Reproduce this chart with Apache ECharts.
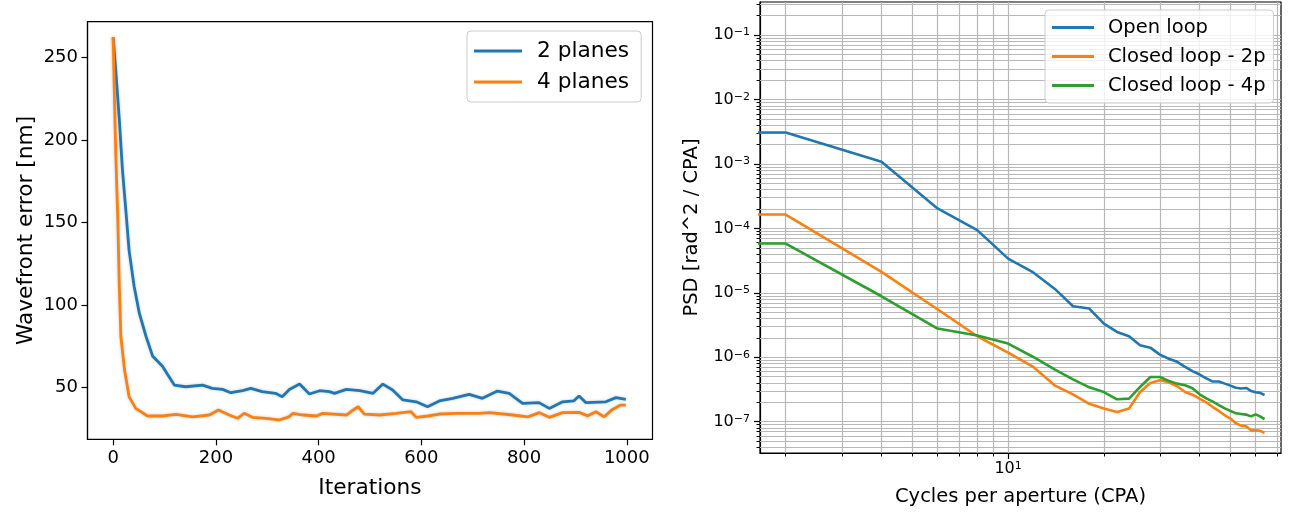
<!DOCTYPE html>
<html>
<head>
<meta charset="utf-8">
<script src="https://cdn.jsdelivr.net/npm/echarts@6/dist/echarts.min.js"></script>
<style>
html, body { margin: 0; padding: 0; background: #fff; }
#chart { width: 1294px; height: 512px; }
</style>
</head>
<body>
<div id="chart"></div>
<script>
// left panel: wavefront error per iteration
var blueIter = [0, 5, 12, 18, 25, 31, 41, 51, 64, 77, 96, 106, 119, 141, 174, 193, 213, 229, 252, 268, 290, 316, 329, 343, 363, 382, 402, 421, 431, 454, 480, 506, 525, 544, 564, 590, 612, 635, 661, 693, 719, 748, 771, 797, 829, 849, 875, 897, 907, 920, 959, 979, 998];
var blueErr = [262, 242, 212, 182, 156, 133, 111, 95, 81, 69, 63, 58, 51.6, 50.6, 51.6, 49.6, 49, 47, 48.2, 49.6, 47.6, 46.6, 44.6, 49, 52.2, 46.2, 48.2, 47.6, 46.6, 49, 48.2, 46.6, 52.2, 48.6, 42.6, 41.5, 38.5, 42, 43.6, 46, 43.6, 48, 46.6, 40.5, 41, 37.5, 41.5, 42.1, 45, 41, 41.5, 44, 43];
var orangeIter = [0, 2, 5, 9, 12, 15, 22, 31, 44, 67, 96, 122, 155, 187, 205, 226, 242, 255, 271, 297, 323, 342, 350, 370, 396, 408, 454, 463, 477, 489, 519, 551, 580, 590, 613, 635, 668, 713, 732, 778, 807, 830, 849, 875, 907, 924, 940, 956, 972, 988, 998];
var orangeErr = [262, 232, 192, 152, 111, 81, 61, 44.5, 37.5, 32.9, 32.9, 33.9, 32.4, 33.5, 36.5, 33.5, 31.5, 34.5, 32.1, 31.5, 30.5, 32.4, 34.5, 33.5, 32.9, 34.5, 33.5, 35.6, 38.5, 34, 33.5, 34.5, 35.5, 32.1, 32.9, 34.1, 34.5, 34.5, 34.9, 33.5, 32.4, 34.9, 32.1, 34.9, 35.1, 33, 35.5, 32.4, 36.9, 39.5, 39.5];
var iterTicks = [0, 200, 400, 600, 800, 1000];
var errTicks = [50, 100, 150, 200, 250];

// right panel: PSD vs cycles per aperture
var cpa = [1, 2, 4, 6, 8, 10, 12, 14, 16, 18, 20, 22, 24, 26, 28, 30, 32, 34, 36, 38, 40, 42, 44, 46, 48, 50, 52, 54, 56, 58, 60, 62, 64];
var psdOpen = [3.08e-3, 3.08e-3, 1.08e-3, 2.04e-4, 9.4e-5, 3.4e-5, 2.07e-5, 1.16e-5, 6.2e-6, 5.7e-6, 3.33e-6, 2.47e-6, 2.12e-6, 1.54e-6, 1.41e-6, 1.1e-6, 9.5e-7, 8.5e-7, 7.1e-7, 6.1e-7, 5.4e-7, 4.7e-7, 4.2e-7, 4.2e-7, 3.9e-7, 3.63e-7, 3.36e-7, 3.27e-7, 3.34e-7, 3.0e-7, 2.86e-7, 2.8e-7, 2.6e-7];
var psd2p = [1.64e-4, 1.64e-4, 2.11e-5, 5.56e-6, 2.12e-6, 1.18e-6, 7.1e-7, 3.67e-7, 2.66e-7, 1.9e-7, 1.6e-7, 1.41e-7, 1.6e-7, 2.89e-7, 3.99e-7, 4.4e-7, 4.1e-7, 3.55e-7, 2.89e-7, 2.63e-7, 2.28e-7, 2.0e-7, 1.69e-7, 1.47e-7, 1.26e-7, 1.12e-7, 9.5e-8, 8.7e-8, 8.5e-8, 7.35e-8, 7.35e-8, 7.2e-8, 6.76e-8];
var psd4p = [5.82e-5, 5.82e-5, 8.85e-6, 2.79e-6, 2.17e-6, 1.63e-6, 1.01e-6, 6.5e-7, 4.55e-7, 3.42e-7, 2.89e-7, 2.23e-7, 2.28e-7, 3.46e-7, 4.94e-7, 4.94e-7, 4.28e-7, 3.9e-7, 3.67e-7, 3.3e-7, 2.66e-7, 2.3e-7, 2.05e-7, 1.81e-7, 1.61e-7, 1.47e-7, 1.35e-7, 1.32e-7, 1.29e-7, 1.21e-7, 1.30e-7, 1.21e-7, 1.1e-7];
var cpaMajor = [10];
var cpaMinor = [2, 3, 4, 5, 6, 7, 8, 9, 20, 30, 40, 50, 60, 70];
var psdMajor = [1e-7, 1e-6, 1e-5, 1e-4, 1e-3, 1e-2, 1e-1];
var psdMinorSteps = [2, 3, 4, 5, 6, 7, 8, 9];

var FONT = 'DejaVu Sans';
var BLUE = '#1f77b4', ORANGE = '#ff7f0e', GREEN = '#2ca02c';
var CPA_MIN = 1.66, CPA_MAX = 72.1;
var PSD_MIN = 3.27e-8, PSD_MAX = 0.326;

function pairs(xs, ys) {
    var out = [];
    for (var i = 0; i < xs.length; i++) {
        out.push([xs[i], ys[i]]);
    }
    return out;
}

function psdMinor() {
    var vals = [];
    for (var e = -8; e <= -1; e++) {
        for (var k = 0; k < psdMinorSteps.length; k++) {
            var v = psdMinorSteps[k] * Math.pow(10, e);
            if (v > PSD_MIN && v < PSD_MAX) vals.push(v);
        }
    }
    return vals;
}

function powLabel(v) {
    var e = Math.round(Math.log10(v));
    return '10{sup|' + (e < 0 ? '\u2212' : '') + Math.abs(e) + '}';
}

// grid lines of the log panel (major + minor), drawn as markLines between axis limits
function gridLines() {
    var items = [];
    var xs = cpaMinor.concat(cpaMajor);
    for (var i = 0; i < xs.length; i++) {
        items.push([{coord: [xs[i], PSD_MIN]}, {coord: [xs[i], PSD_MAX]}]);
    }
    var ys = psdMinor().concat(psdMajor);
    for (var j = 0; j < ys.length; j++) {
        items.push([{coord: [CPA_MIN, ys[j]]}, {coord: [CPA_MAX, ys[j]]}]);
    }
    return items;
}

var chart = echarts.init(document.getElementById('chart'));

var lineGlow = {shadowColor: 'rgba(110,120,140,0.4)', shadowBlur: 3};

var option = {
    animation: false,
    backgroundColor: '#fff',
    textStyle: {fontFamily: FONT, color: '#000'},
    grid: [
        {left: 87.5, right: 641.5, top: 21.7, bottom: 72.7, show: true, borderColor: '#000', borderWidth: 1.2},
        {left: 760, right: 13, top: 2, bottom: 59, show: true, borderColor: '#000', borderWidth: 1.2}
    ],
    legend: [
        {
            data: ['2 planes', '4 planes'],
            orient: 'vertical',
            left: 467, top: 31,
            icon: 'rect', itemWidth: 48, itemHeight: 3, itemGap: 7,
            padding: [8, 12, 8, 7],
            borderColor: '#cccccc', borderWidth: 1, borderRadius: 4,
            backgroundColor: 'rgba(255,255,255,0.8)',
            textStyle: {fontFamily: FONT, fontSize: 21.7, color: '#000', lineHeight: 24, padding: [0, 0, 0, 10]}
        },
        {
            data: ['Open loop', 'Closed loop - 2p', 'Closed loop - 4p'],
            orient: 'vertical',
            left: 1045, top: 10,
            icon: 'rect', itemWidth: 42, itemHeight: 3, itemGap: 6,
            padding: [6, 8, 6, 7],
            borderColor: '#cccccc', borderWidth: 1, borderRadius: 4,
            backgroundColor: 'rgba(255,255,255,0.8)',
            textStyle: {fontFamily: FONT, fontSize: 19.5, color: '#000', lineHeight: 23, padding: [0, 0, 0, 9]}
        }
    ],
    xAxis: [
        {
            gridIndex: 0, type: 'value', min: -50, max: 1050,
            name: 'Iterations', nameLocation: 'middle', nameGap: 38,
            nameTextStyle: {fontFamily: FONT, fontSize: 21.7, color: '#000'},
            axisLine: {onZero: false, lineStyle: {color: '#000', width: 1.2}},
            axisTick: {customValues: iterTicks, length: 6, lineStyle: {color: '#000', width: 1.2}},
            axisLabel: {
                customValues: iterTicks, margin: 10, fontFamily: FONT, fontSize: 18, color: '#000',
                formatter: function (v) { return String(v); }
            },
            splitLine: {show: false}
        },
        {
            gridIndex: 1, type: 'log', min: CPA_MIN, max: CPA_MAX, position: 'bottom',
            name: 'Cycles per aperture (CPA)', nameLocation: 'middle', nameGap: 34,
            nameTextStyle: {fontFamily: FONT, fontSize: 19.5, color: '#000'},
            axisLine: {onZero: false, lineStyle: {color: '#000', width: 1.2}},
            axisTick: {customValues: cpaMajor, length: 6, lineStyle: {color: '#000', width: 1.2}},
            axisLabel: {
                customValues: cpaMajor, margin: 8, fontFamily: FONT, fontSize: 16, color: '#000',
                formatter: powLabel,
                rich: {sup: {fontFamily: FONT, fontSize: 11, verticalAlign: 'top', color: '#000'}}
            },
            splitLine: {show: false}
        },
        {
            gridIndex: 1, type: 'log', min: CPA_MIN, max: CPA_MAX, position: 'bottom',
            axisLine: {show: false, onZero: false},
            axisTick: {customValues: cpaMinor, length: 3.5, lineStyle: {color: '#000', width: 1}},
            axisLabel: {show: false},
            splitLine: {show: false}
        }
    ],
    yAxis: [
        {
            gridIndex: 0, type: 'value', min: 18.8, max: 271.5,
            name: 'Wavefront error [nm]', nameLocation: 'middle', nameGap: 50,
            nameTextStyle: {fontFamily: FONT, fontSize: 21.7, color: '#000'},
            axisLine: {show: true, onZero: false, lineStyle: {color: '#000', width: 1.2}},
            axisTick: {show: true, customValues: errTicks, length: 6, lineStyle: {color: '#000', width: 1.2}},
            axisLabel: {customValues: errTicks, margin: 9.5, fontFamily: FONT, fontSize: 18, color: '#000'},
            splitLine: {show: false}
        },
        {
            gridIndex: 1, type: 'log', min: PSD_MIN, max: PSD_MAX, position: 'left',
            name: 'PSD [rad^2 / CPA]', nameLocation: 'middle', nameGap: 58,
            nameTextStyle: {fontFamily: FONT, fontSize: 19.5, color: '#000'},
            axisLine: {show: true, onZero: false, lineStyle: {color: '#000', width: 1.2}},
            axisTick: {show: true, customValues: psdMajor, length: 6, lineStyle: {color: '#000', width: 1.2}},
            axisLabel: {
                customValues: psdMajor, margin: 10, fontFamily: FONT, fontSize: 16, color: '#000',
                formatter: powLabel,
                rich: {sup: {fontFamily: FONT, fontSize: 11, verticalAlign: 'top', color: '#000'}}
            },
            splitLine: {show: false}
        },
        {
            gridIndex: 1, type: 'log', min: PSD_MIN, max: PSD_MAX, position: 'left',
            axisLine: {show: false, onZero: false},
            axisTick: {show: true, customValues: psdMinor(), length: 3.5, lineStyle: {color: '#000', width: 1}},
            axisLabel: {show: false},
            splitLine: {show: false}
        }
    ],
    series: [
        {
            name: '2 planes', type: 'line', xAxisIndex: 0, yAxisIndex: 0,
            data: pairs(blueIter, blueErr), showSymbol: false, color: BLUE,
            lineStyle: Object.assign({width: 2.8, color: BLUE}, lineGlow)
        },
        {
            name: '4 planes', type: 'line', xAxisIndex: 0, yAxisIndex: 0,
            data: pairs(orangeIter, orangeErr), showSymbol: false, color: ORANGE,
            lineStyle: Object.assign({width: 2.8, color: ORANGE}, lineGlow)
        },
        {
            name: 'Open loop', type: 'line', xAxisIndex: 1, yAxisIndex: 1,
            data: pairs(cpa, psdOpen), showSymbol: false, color: BLUE, clip: true,
            lineStyle: {width: 2.6, color: BLUE},
            markLine: {
                silent: true, symbol: ['none', 'none'], z: 1,
                label: {show: false},
                lineStyle: {color: '#b8b8b8', width: 1.2, type: 'solid'},
                emphasis: {disabled: true},
                data: gridLines()
            }
        },
        {
            name: 'Closed loop - 2p', type: 'line', xAxisIndex: 1, yAxisIndex: 1,
            data: pairs(cpa, psd2p), showSymbol: false, color: ORANGE, clip: true,
            lineStyle: {width: 2.6, color: ORANGE}
        },
        {
            name: 'Closed loop - 4p', type: 'line', xAxisIndex: 1, yAxisIndex: 1,
            data: pairs(cpa, psd4p), showSymbol: false, color: GREEN, clip: true,
            lineStyle: {width: 2.6, color: GREEN}
        }
    ]
};

chart.setOption(option);
</script>
</body>
</html>
